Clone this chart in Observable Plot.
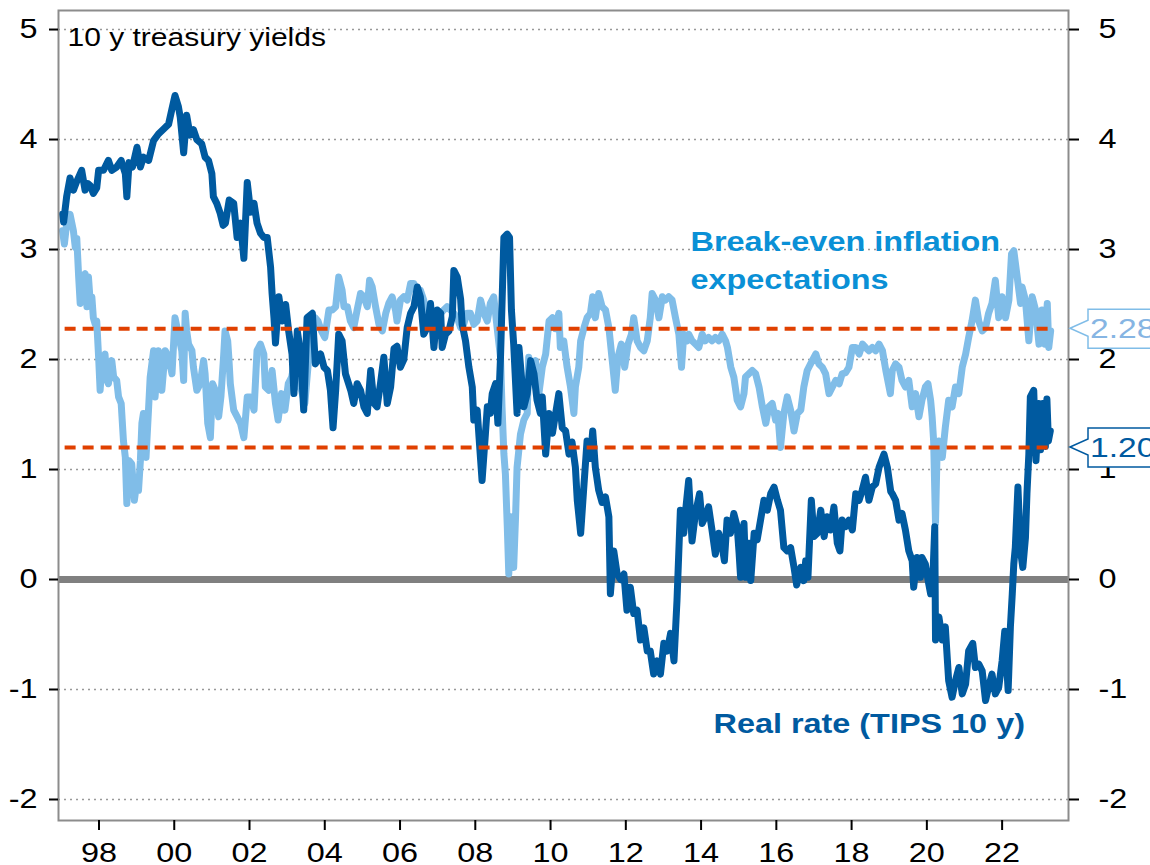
<!DOCTYPE html>
<html>
<head>
<meta charset="utf-8">
<script src="https://cdn.jsdelivr.net/npm/d3@7"></script>
<script src="https://cdn.jsdelivr.net/npm/@observablehq/plot@0.6"></script>
<style>
  html, body { margin: 0; padding: 0; background: #fff; }
  #chart svg { display: block; }
</style>
</head>
<body>
<div id="chart"></div>
<script>
// ---------------- DATA ----------------
const realYears = [1997.03,1997.06,1997.14,1997.23,1997.32,1997.41,1997.54,1997.63,1997.70,1997.77,1997.85,1997.94,1997.99,1998.12,1998.25,1998.34,1998.47,1998.59,1998.70,1998.74,1998.80,1998.89,1999.01,1999.10,1999.18,1999.32,1999.45,1999.58,1999.76,1999.85,1999.94,2000.02,2000.11,2000.16,2000.25,2000.33,2000.42,2000.51,2000.60,2000.73,2000.82,2000.91,2001.00,2001.04,2001.13,2001.22,2001.30,2001.36,2001.46,2001.58,2001.67,2001.76,2001.85,2001.94,2002.03,2002.12,2002.20,2002.29,2002.38,2002.47,2002.56,2002.60,2002.65,2002.69,2002.78,2002.87,2002.96,2003.04,2003.13,2003.18,2003.27,2003.36,2003.44,2003.53,2003.67,2003.75,2003.89,2003.98,2004.07,2004.15,2004.22,2004.29,2004.37,2004.46,2004.55,2004.69,2004.77,2004.86,2004.95,2005.04,2005.13,2005.22,2005.31,2005.39,2005.48,2005.57,2005.66,2005.75,2005.84,2005.92,2006.01,2006.10,2006.19,2006.28,2006.37,2006.46,2006.54,2006.63,2006.72,2006.81,2006.90,2006.99,2007.08,2007.12,2007.21,2007.30,2007.39,2007.43,2007.52,2007.61,2007.65,2007.74,2007.83,2007.92,2007.96,2008.05,2008.10,2008.18,2008.27,2008.32,2008.40,2008.45,2008.54,2008.60,2008.67,2008.76,2008.85,2008.91,2008.96,2009.02,2009.11,2009.16,2009.25,2009.29,2009.38,2009.47,2009.56,2009.64,2009.73,2009.78,2009.87,2009.96,2010.05,2010.13,2010.22,2010.31,2010.40,2010.49,2010.57,2010.66,2010.71,2010.80,2010.89,2010.97,2011.06,2011.12,2011.19,2011.28,2011.37,2011.46,2011.55,2011.59,2011.68,2011.77,2011.86,2011.95,2012.03,2012.12,2012.21,2012.30,2012.39,2012.48,2012.57,2012.65,2012.74,2012.83,2012.92,2013.01,2013.10,2013.19,2013.28,2013.36,2013.45,2013.54,2013.59,2013.67,2013.76,2013.85,2013.96,2014.03,2014.11,2014.20,2014.29,2014.38,2014.47,2014.56,2014.62,2014.69,2014.78,2014.87,2014.96,2015.01,2015.05,2015.10,2015.14,2015.19,2015.27,2015.32,2015.41,2015.49,2015.58,2015.67,2015.76,2015.85,2015.94,2016.03,2016.11,2016.20,2016.29,2016.38,2016.47,2016.54,2016.65,2016.73,2016.78,2016.84,2016.93,2017.00,2017.09,2017.18,2017.27,2017.35,2017.44,2017.53,2017.62,2017.69,2017.75,2017.84,2017.93,2018.02,2018.11,2018.20,2018.28,2018.37,2018.46,2018.55,2018.64,2018.73,2018.86,2018.95,2019.04,2019.08,2019.17,2019.26,2019.34,2019.43,2019.52,2019.61,2019.65,2019.74,2019.83,2019.87,2019.96,2020.05,2020.10,2020.16,2020.21,2020.23,2020.32,2020.41,2020.49,2020.58,2020.67,2020.76,2020.85,2020.94,2021.03,2021.11,2021.22,2021.29,2021.38,2021.47,2021.56,2021.64,2021.73,2021.82,2021.91,2022.00,2022.07,2022.16,2022.22,2022.27,2022.31,2022.35,2022.42,2022.49,2022.55,2022.62,2022.66,2022.71,2022.75,2022.84,2022.90,2022.97,2023.02,2023.08,2023.15,2023.19,2023.23,2023.28];
const realValues = [3.32,3.25,3.48,3.65,3.54,3.62,3.72,3.54,3.60,3.58,3.51,3.56,3.72,3.72,3.81,3.72,3.75,3.81,3.69,3.48,3.79,3.75,3.93,3.75,3.84,3.81,3.99,4.05,4.11,4.14,4.28,4.40,4.30,4.20,3.88,4.22,4.04,4.09,4.00,3.96,3.84,3.81,3.69,3.48,3.42,3.33,3.22,3.24,3.45,3.42,3.11,3.24,2.92,3.61,3.34,3.42,3.24,3.15,3.11,3.11,2.84,2.60,2.38,2.15,2.57,2.35,2.50,2.26,2.05,1.69,2.26,2.05,1.54,2.38,2.42,1.96,2.05,1.93,1.90,1.72,1.38,1.72,2.23,2.17,1.87,1.72,1.60,1.78,1.72,1.57,1.51,1.90,1.60,1.57,1.78,2.02,1.60,1.75,2.10,2.12,1.93,2.00,2.29,2.42,2.48,2.66,2.57,2.23,2.29,2.51,2.11,2.45,2.42,2.11,2.23,2.26,2.39,2.81,2.75,2.55,2.32,2.17,1.93,1.75,1.45,1.54,1.29,0.90,1.33,1.57,1.51,1.69,1.78,1.42,2.02,3.11,3.14,3.11,2.45,2.14,1.51,2.11,1.75,1.57,1.69,1.99,1.87,1.63,1.51,1.66,1.14,1.51,1.33,1.50,1.69,1.38,1.35,1.14,1.25,1.02,0.72,0.42,0.87,1.26,1.10,1.35,1.02,0.81,0.70,0.75,0.57,-0.13,0.26,0.05,0.00,0.05,-0.28,-0.07,-0.31,-0.28,-0.55,-0.44,-0.65,-0.65,-0.86,-0.74,-0.86,-0.58,-0.65,-0.49,-0.74,-0.19,0.63,0.42,0.63,0.90,0.35,0.60,0.78,0.51,0.57,0.66,0.45,0.23,0.42,0.30,0.17,0.54,0.42,0.60,0.48,0.24,0.02,0.42,0.51,0.02,0.33,-0.01,0.42,0.36,0.54,0.72,0.63,0.78,0.84,0.72,0.63,0.29,0.26,0.29,0.11,-0.05,0.11,-0.01,0.17,0.02,0.72,0.39,0.42,0.63,0.39,0.57,0.45,0.66,0.33,0.26,0.54,0.48,0.54,0.45,0.78,0.72,0.81,0.93,0.72,0.84,0.87,1.02,1.14,1.02,0.80,0.78,0.72,0.54,0.60,0.45,0.26,0.17,-0.07,0.20,0.02,0.20,0.14,-0.04,-0.13,0.02,0.48,-0.55,-0.34,-0.55,-0.43,-0.92,-1.07,-0.92,-0.80,-1.04,-0.95,-0.65,-0.58,-0.80,-0.77,-0.83,-1.10,-0.98,-0.86,-1.04,-0.98,-0.74,-0.47,-1.01,-0.43,-0.13,0.14,0.29,0.84,0.26,0.11,0.38,0.78,1.14,1.66,1.72,1.08,1.60,1.18,1.60,1.21,1.64,1.26,1.35];

const beYears = [1997.03,1997.08,1997.14,1997.23,1997.32,1997.37,1997.41,1997.46,1997.50,1997.56,1997.63,1997.68,1997.72,1997.77,1997.81,1997.85,1997.90,1997.94,1997.99,1998.03,1998.08,1998.16,1998.21,1998.25,1998.34,1998.39,1998.47,1998.52,1998.59,1998.65,1998.70,1998.74,1998.80,1998.87,1998.94,1999.01,1999.05,1999.10,1999.14,1999.18,1999.25,1999.32,1999.36,1999.45,1999.49,1999.58,1999.63,1999.67,1999.76,1999.85,1999.94,2000.02,2000.11,2000.20,2000.25,2000.29,2000.33,2000.38,2000.47,2000.51,2000.60,2000.69,2000.78,2000.82,2000.89,2000.96,2001.02,2001.09,2001.18,2001.24,2001.31,2001.35,2001.42,2001.45,2001.49,2001.58,2001.67,2001.76,2001.85,2001.94,2002.03,2002.12,2002.20,2002.29,2002.38,2002.42,2002.51,2002.60,2002.69,2002.76,2002.85,2002.94,2003.03,2003.12,2003.20,2003.29,2003.38,2003.47,2003.56,2003.65,2003.74,2003.82,2003.91,2004.00,2004.11,2004.20,2004.29,2004.37,2004.46,2004.51,2004.60,2004.68,2004.77,2004.86,2004.95,2005.04,2005.13,2005.19,2005.26,2005.35,2005.44,2005.53,2005.62,2005.70,2005.79,2005.88,2005.92,2006.01,2006.10,2006.19,2006.28,2006.37,2006.46,2006.54,2006.63,2006.72,2006.81,2006.90,2006.99,2007.08,2007.16,2007.25,2007.34,2007.43,2007.52,2007.61,2007.69,2007.78,2007.87,2007.96,2008.05,2008.14,2008.23,2008.32,2008.40,2008.49,2008.58,2008.67,2008.71,2008.76,2008.80,2008.85,2008.89,2008.94,2008.98,2009.02,2009.07,2009.11,2009.20,2009.29,2009.38,2009.42,2009.51,2009.60,2009.69,2009.78,2009.87,2009.96,2010.05,2010.13,2010.22,2010.26,2010.35,2010.44,2010.53,2010.62,2010.66,2010.75,2010.80,2010.89,2010.97,2011.06,2011.12,2011.19,2011.28,2011.37,2011.46,2011.55,2011.64,2011.72,2011.79,2011.88,2011.97,2012.06,2012.15,2012.21,2012.30,2012.39,2012.48,2012.57,2012.65,2012.70,2012.79,2012.88,2012.97,2013.05,2013.14,2013.23,2013.32,2013.41,2013.48,2013.54,2013.63,2013.67,2013.76,2013.85,2013.94,2014.03,2014.11,2014.20,2014.29,2014.38,2014.47,2014.56,2014.65,2014.70,2014.79,2014.87,2014.96,2015.05,2015.14,2015.18,2015.27,2015.36,2015.45,2015.54,2015.63,2015.72,2015.80,2015.89,2015.98,2016.04,2016.11,2016.20,2016.29,2016.38,2016.47,2016.56,2016.65,2016.73,2016.82,2016.91,2017.05,2017.13,2017.22,2017.31,2017.40,2017.49,2017.58,2017.67,2017.75,2017.84,2017.93,2018.02,2018.11,2018.20,2018.29,2018.37,2018.46,2018.55,2018.64,2018.73,2018.82,2018.91,2018.99,2019.03,2019.08,2019.17,2019.26,2019.34,2019.43,2019.52,2019.61,2019.70,2019.79,2019.87,2019.96,2020.03,2020.10,2020.14,2020.18,2020.23,2020.27,2020.32,2020.41,2020.49,2020.58,2020.67,2020.76,2020.85,2020.94,2021.03,2021.11,2021.20,2021.29,2021.38,2021.47,2021.56,2021.64,2021.73,2021.82,2021.91,2022.00,2022.09,2022.18,2022.25,2022.31,2022.40,2022.49,2022.53,2022.62,2022.71,2022.80,2022.89,2022.98,2023.06,2023.14,2023.20,2023.24,2023.29];
const beValues = [3.17,3.05,3.23,3.32,3.17,3.02,3.10,2.75,2.51,2.75,2.78,2.48,2.75,2.51,2.57,2.38,2.32,2.35,2.02,1.72,1.96,2.05,1.81,1.78,1.99,1.84,1.81,1.66,1.60,1.26,1.11,0.69,1.08,1.05,0.72,0.90,0.81,1.08,1.42,1.51,1.11,1.57,1.84,2.08,1.66,2.08,2.02,1.72,2.08,2.02,1.87,2.38,2.23,2.08,1.81,2.42,2.26,2.14,2.08,1.93,1.72,1.78,1.99,1.87,1.42,1.29,1.78,1.72,1.48,1.66,2.02,2.26,2.17,2.02,1.78,1.54,1.48,1.42,1.29,1.66,1.66,1.54,2.08,2.14,2.05,1.75,1.72,1.90,1.60,1.45,1.69,1.54,1.78,1.84,1.99,1.78,1.72,1.60,1.96,2.14,2.38,2.35,2.26,2.20,2.45,2.45,2.48,2.75,2.63,2.48,2.48,2.35,2.29,2.45,2.60,2.57,2.48,2.72,2.66,2.48,2.32,2.26,2.42,2.51,2.57,2.45,2.35,2.54,2.57,2.54,2.69,2.69,2.57,2.63,2.54,2.32,2.32,2.38,2.42,2.42,2.45,2.48,2.45,2.42,2.38,2.29,2.32,2.42,2.42,2.32,2.35,2.54,2.42,2.35,2.51,2.57,2.29,2.02,1.57,1.14,0.96,0.48,0.05,0.57,0.42,0.11,0.57,1.02,1.32,1.45,1.51,2.02,1.87,1.99,1.69,1.93,2.05,2.35,2.38,2.28,2.42,2.11,2.17,1.93,1.75,1.51,1.75,1.93,2.17,2.29,2.38,2.42,2.57,2.38,2.60,2.48,2.45,2.29,1.99,1.72,2.02,2.14,1.93,2.14,2.23,2.38,2.17,2.11,2.08,2.17,2.38,2.60,2.54,2.38,2.57,2.54,2.57,2.54,2.38,2.23,1.93,2.23,2.17,2.23,2.17,2.14,2.11,2.23,2.17,2.20,2.17,2.20,2.17,2.23,2.17,2.11,1.93,1.84,1.63,1.57,1.69,1.84,1.87,1.90,1.87,1.75,1.57,1.42,1.57,1.60,1.45,1.51,1.20,1.51,1.66,1.54,1.35,1.51,1.54,1.75,1.90,1.96,2.05,1.96,1.93,1.87,1.69,1.75,1.81,1.78,1.87,1.88,1.93,2.11,2.11,2.05,2.14,2.11,2.08,2.11,2.08,2.14,2.08,1.90,1.76,1.69,1.90,1.96,1.93,1.81,1.75,1.81,1.57,1.69,1.48,1.63,1.75,1.78,1.63,1.48,1.26,0.51,1.14,1.26,1.11,1.38,1.63,1.57,1.75,1.69,1.93,2.05,2.20,2.35,2.54,2.35,2.26,2.29,2.42,2.51,2.72,2.38,2.57,2.38,2.54,2.96,2.99,2.75,2.51,2.66,2.54,2.17,2.57,2.45,2.14,2.45,2.14,2.51,2.11,2.26];

const yTicks = [-2, -1, 0, 1, 2, 3, 4, 5];
const xTicks = [1998, 2000, 2002, 2004, 2006, 2008, 2010, 2012, 2014, 2016, 2018, 2020, 2022];
const xTickLabels = ["98", "00", "02", "04", "06", "08", "10", "12", "14", "16", "18", "20", "22"];
const refLevels = [2.28, 1.20];
const refLabels = ["2.28", "1.20"];
const refSpan = [1997.1, 2023.25];
const panelTitle = "10 y treasury yields";
const beLabelLines = ["Break-even inflation", "expectations"];
const realLabel = "Real rate (TIPS 10 y)";

// ---------------- STYLE ----------------
const W = 1150, H = 865;
const M = {left: 58, right: 82, top: 10, bottom: 45};
const DARK = "#005AA0", LIGHT = "#80BDE8", BE_TEXT = "#0A90D6", RED = "#E04000";
const SX = 1.2; // horizontal glyph stretch seen in the reference

const real = realYears.map((t, i) => ({t, v: realValues[i]}));
const be = beYears.map((t, i) => ({t, v: beValues[i]}));

const chart = Plot.plot({
  width: W, height: H,
  marginLeft: M.left, marginRight: M.right, marginTop: M.top, marginBottom: M.bottom,
  style: {fontFamily: "'Liberation Sans', Arial, sans-serif", background: "#fff", color: "#000", overflow: "visible"},
  x: {domain: [1996.924, 2023.764]},
  y: {domain: [-2.191, 5.173]},
  marks: [
    Plot.ruleY(yTicks, {stroke: "#999", strokeWidth: 1.6, strokeDasharray: "2,4"}),
    Plot.ruleY([0], {stroke: "#808080", strokeWidth: 7}),
    Plot.line(be, {x: "t", y: "v", stroke: LIGHT, strokeWidth: 7}),
    Plot.line(real, {x: "t", y: "v", stroke: DARK, strokeWidth: 7}),
    Plot.ruleY(refLevels, {x1: refSpan[0], x2: refSpan[1], stroke: RED, strokeWidth: 4, strokeDasharray: "11,7"}),
    Plot.frame({stroke: "#8c8c8c", strokeWidth: 2}),
    Plot.axisY(yTicks, {anchor: "left", tickSize: 9, tickPadding: 12, fontSize: 27, strokeWidth: 2, tickFormat: d => String(d), label: null}),
    Plot.axisY(yTicks, {anchor: "right", tickSize: 10, tickPadding: 20, fontSize: 27, strokeWidth: 2, tickFormat: d => String(d), label: null}),
    Plot.axisX(xTicks, {anchor: "bottom", tickSize: 10, tickPadding: 12, fontSize: 27, strokeWidth: 2, tickFormat: d => xTickLabels[xTicks.indexOf(d)], label: null}),
    Plot.text([panelTitle], {text: d => d, frameAnchor: "top-left", dx: 9, dy: 18, lineAnchor: "top", textAnchor: "start", fontSize: 25, fill: "#000"}),
    Plot.text([beLabelLines[0]], {text: d => d, x: [2013.72], y: [2.99], lineAnchor: "bottom", textAnchor: "start", fontSize: 27, fontWeight: "bold", fill: BE_TEXT}),
    Plot.text([beLabelLines[1]], {text: d => d, x: [2013.72], y: [2.645], lineAnchor: "bottom", textAnchor: "start", fontSize: 27, fontWeight: "bold", fill: BE_TEXT}),
    Plot.text([realLabel], {text: d => d, x: [2014.33], y: [-1.40], lineAnchor: "bottom", textAnchor: "start", fontSize: 27, fontWeight: "bold", fill: DARK})
  ]
});

document.getElementById("chart").appendChild(chart);

// value call-out boxes on the right
const svg = d3.select(chart);
const ys = chart.scale("y");
const boxStroke = [LIGHT, DARK];
const boxText = ["#86B5E3", DARK];
refLevels.forEach((v, i) => {
  const y = ys.apply(v);
  const tip = W - M.right + 2;
  const bx = tip + 18;
  const g = svg.append("g");
  g.append("path")
    .attr("d", `M${tip},${y} L${bx},${y - 8} V${y - 19} H${W + 20} V${y + 20} H${bx} V${y + 8} Z`)
    .attr("fill", "#fff").attr("stroke", boxStroke[i]).attr("stroke-width", 1.5);
  g.append("text")
    .attr("x", bx + 2).attr("y", y).attr("dy", "0.36em")
    .attr("font-size", 28).attr("fill", boxText[i]).attr("text-anchor", "start")
    .text(refLabels[i]);
});

// stretch glyphs horizontally around their anchor (reference text is wide)
svg.selectAll("text").each(function () {
  const bb = this.getBBox();
  const a = getComputedStyle(this).textAnchor;
  const ax = a === "end" ? bb.x + bb.width : a === "middle" ? bb.x + bb.width / 2 : bb.x;
  const t = this.getAttribute("transform") || "";
  this.setAttribute("transform", `${t} translate(${ax},0) scale(${SX},1) translate(${-ax},0)`);
});
</script>
</body>
</html>
